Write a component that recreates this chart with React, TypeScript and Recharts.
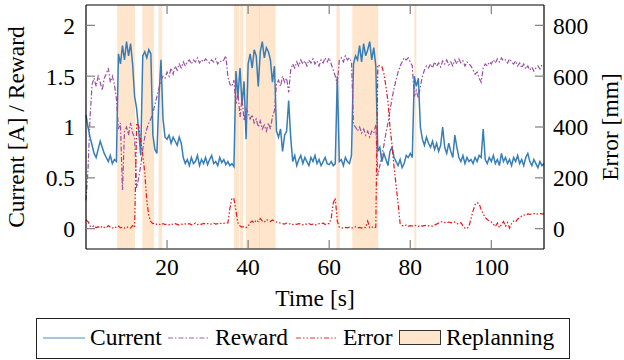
import React from 'react';
import { LineChart, Line, XAxis, YAxis, ReferenceArea, Label } from 'recharts';

// sampled every 0.5 s, t = 0 .. 113
const current = [
  1.12, 1.0, 0.9, 0.82, 0.74, 0.7, 0.78, 0.86, 0.8, 0.74,
  0.7, 0.66, 0.72, 0.64, 0.68, 0.66, 1.72, 1.62, 1.8, 1.66,
  1.84, 1.7, 1.82, 1.62, 1.3, 1.18, 0.96, 0.72, 1.7, 1.74,
  1.68, 1.76, 1.72, 0.92, 0.78, 0.74, 1.3, 1.66, 1.08, 0.9,
  0.88, 0.92, 0.84, 0.9, 0.86, 0.82, 0.9, 0.84, 0.7, 0.64,
  0.68, 0.62, 0.7, 0.64, 0.66, 0.72, 0.62, 0.68, 0.64, 0.7,
  0.63, 0.68, 0.72, 0.64, 0.66, 0.62, 0.7, 0.65, 0.68, 0.63,
  0.66, 0.62, 0.64, 0.61, 1.55, 1.3, 1.58, 1.22, 1.45, 0.88,
  1.62, 1.72, 1.58, 1.76, 1.7, 1.4, 1.74, 1.84, 1.68, 1.78,
  1.74, 1.66, 1.44, 1.6, 0.96, 0.9, 0.98, 0.76, 0.92, 0.96,
  1.26, 0.9, 0.66, 0.72, 0.62, 0.68, 0.72, 0.64, 0.7, 0.66,
  0.62, 0.7, 0.66, 0.72, 0.64, 0.68, 0.62, 0.66, 0.7, 0.64,
  0.63, 0.66, 0.62, 0.64, 1.5, 0.66, 0.68, 0.62, 0.7, 0.66,
  0.64, 0.72, 1.62, 1.7, 1.66, 1.8, 1.64, 1.82, 1.7, 1.76,
  1.84, 1.66, 1.78, 1.6, 0.76, 0.8, 0.66, 0.74, 0.68, 0.62,
  0.76, 0.8, 0.7, 0.66, 0.62, 0.68, 0.6, 0.64, 0.72, 0.7,
  0.74, 0.7, 1.5, 1.4, 1.48, 1.0, 0.88, 0.82, 0.9, 0.84,
  0.8, 0.86, 0.78, 0.84, 0.76, 0.82, 1.0, 0.8, 0.74, 0.84,
  0.76, 0.7, 0.92, 0.8, 0.7, 0.66, 0.72, 0.64, 0.7, 0.66,
  0.68, 0.64, 0.7, 0.66, 0.72, 0.7, 0.98, 0.68, 0.64, 0.7,
  0.66, 0.72, 0.64, 0.68, 0.62, 0.74, 0.66, 0.7, 0.64, 0.68,
  0.62, 0.7, 0.66, 0.72, 0.64, 0.68, 0.62, 0.7, 0.74, 0.66,
  0.62, 0.68, 0.64, 0.6, 0.66, 0.62, 0.64,
];

const reward = [
  0.28, 0.58, 1.1, 1.42, 1.48, 1.4, 1.5, 1.44, 1.36, 1.48,
  1.52, 1.58, 1.44, 1.5, 1.42, 1.28, 0.98, 1.04, 0.38, 0.96,
  1.0, 0.92, 1.04, 0.94, 0.9, 0.4, 0.5, 0.62, 0.78, 0.9,
  0.98, 1.04, 1.08, 1.14, 1.22, 1.3, 1.38, 1.46, 1.5, 1.48,
  1.54, 1.5, 1.58, 1.52, 1.6, 1.56, 1.62, 1.58, 1.64, 1.6,
  1.64, 1.66, 1.62, 1.66, 1.64, 1.68, 1.63, 1.66, 1.64, 1.67,
  1.65, 1.63, 1.66, 1.64, 1.67, 1.62, 1.65, 1.64, 1.66, 1.7,
  1.5, 1.42, 1.4, 1.46, 1.22, 1.34, 1.1, 1.28, 1.06, 1.18,
  1.14, 1.08, 1.12, 1.04, 1.08, 1.0, 1.06, 0.98, 1.02, 0.96,
  1.04, 0.98, 1.1, 1.16, 1.42, 1.46, 1.4, 1.5, 1.44, 1.48,
  1.34, 1.56, 1.62, 1.58, 1.64, 1.6, 1.66, 1.62, 1.65, 1.6,
  1.66, 1.63, 1.67, 1.62, 1.65, 1.6, 1.66, 1.63, 1.68, 1.64,
  1.68, 1.62, 1.56, 1.5, 1.42, 1.66, 1.68, 1.64, 1.7, 1.66,
  1.68, 1.64, 1.02, 1.0, 0.96, 1.0, 0.94, 0.98, 0.92, 0.96,
  0.9, 0.96, 0.94, 1.02, 0.52, 0.62, 0.72, 0.82, 0.94, 1.04,
  1.16, 1.28, 1.38, 1.46, 1.54, 1.6, 1.64, 1.68, 1.66, 1.68,
  1.64, 1.6, 1.3, 1.36, 1.28, 1.4, 1.5, 1.56, 1.6, 1.58,
  1.62, 1.58, 1.64, 1.6, 1.63, 1.59, 1.65, 1.62, 1.66, 1.61,
  1.64, 1.6, 1.66, 1.62, 1.67, 1.63, 1.65, 1.6, 1.64, 1.62,
  1.6, 1.56, 1.52, 1.54, 1.48, 1.44, 1.58, 1.62, 1.6, 1.64,
  1.62, 1.66, 1.63, 1.67, 1.64, 1.68, 1.65, 1.66, 1.63, 1.67,
  1.64, 1.62, 1.65, 1.6, 1.63, 1.58, 1.62, 1.57, 1.6, 1.56,
  1.59, 1.55, 1.58, 1.6, 1.57, 1.61, 1.6,
];

// error in mm
const error = [
  34, 28, 10, 6, 12, 4, 8, 2, 10, 5,
  3, 12, 6, 2, 8, 4, 10, 3, 6, 2,
  8, 4, 2, 12, 5, 415, 405, 350, 290, 220,
  110, 50, 28, 20, 22, 16, 18, 14, 20, 16,
  18, 15, 19, 16, 20, 17, 14, 18, 16, 19,
  17, 20, 15, 18, 22, 16, 19, 17, 21, 18,
  20, 17, 19, 22, 18, 20, 23, 19, 21, 24,
  22, 80, 120, 118, 70, 22, 10, 6, 8, 4,
  10, 24, 30, 22, 34, 28, 40, 30, 26, 36,
  32, 28, 34, 30, 26, 24, 22, 20, 18, 22,
  18, 20, 16, 19, 17, 20, 18, 15, 19, 17,
  20, 16, 18, 14, 17, 20, 18, 22, 16, 20,
  20, 40, 100, 120, 30, 6, 4, 2, 5, 3,
  6, 2, 4, 8, 3, 5, 2, 6, 4, 30,
  4, 8, 2, 6, 645, 640, 638, 610, 560, 500,
  400, 330, 244, 170, 100, 20, 12, 10, 14, 9,
  12, 10, 14, 11, 9, 13, 10, 12, 14, 11,
  12, 10, 14, 18, 22, 26, 28, 24, 22, 26,
  24, 22, 26, 20, 18, 24, 12, 2, 0, 10,
  40, 70, 95, 102, 98, 75, 58, 44, 36, 30,
  26, 18, 8, 22, 4, 16, 28, 10, 24, 2,
  20, 30, 26, 38, 44, 50, 54, 52, 58, 56,
  58, 60, 56, 58, 60, 57, 59,
];

// replanning intervals [start, end] in s
const replanning = [
  [7.7, 12.1], [13.9, 16.8], [17.9, 18.8], [36.5, 37.8], [38.0, 38.8],
  [39.4, 42.8], [42.7, 46.8], [61.8, 62.6], [65.7, 72.1], [81.0, 81.5],
];

const xTicks = [20, 40, 60, 80, 100];
const leftTicks = [0, 0.5, 1, 1.5, 2];
const rightTicks = [0, 200, 400, 600, 800];

const data = current.map((c, i) => ({ t: i * 0.5, current: c, reward: reward[i], error: error[i] }));

const FONT = '"Liberation Serif", "Times New Roman", serif';
const FS = 23.5;
const BLUE = '#377eb8';
const PURPLE = '#984ea3';
const RED = '#e41a1c';
const ORANGE = '#ff7f00';
const TICK = '#808080';

const tickStyle = { fontFamily: FONT, fontSize: FS, fill: '#000' };
const EmptyTick = () => <g />;

export default function App() {
  return (
    <div style={{ position: 'absolute', left: 0, top: 0, width: 624, height: 360, fontFamily: FONT, background: '#fff' }}>
      <LineChart width={624} height={360} data={data} margin={{ top: 0, right: 0, bottom: 51, left: 0 }}>
        <XAxis
          xAxisId="b"
          dataKey="t"
          type="number"
          domain={[0, 113]}
          ticks={xTicks}
          interval={0}
          height={60}
          tickSize={-9}
          tickMargin={18}
          tick={tickStyle}
          tickLine={{ stroke: TICK, strokeWidth: 1.2 }}
          axisLine={{ stroke: '#000', strokeWidth: 1.2 }}
        >
          <Label
            content={() => (
              <text x={315} y={306} textAnchor="middle" fontFamily={FONT} fontSize={FS} fill="#000">
                Time [s]
              </text>
            )}
          />
        </XAxis>
        <XAxis
          xAxisId="top"
          orientation="top"
          dataKey="t"
          type="number"
          domain={[0, 113]}
          ticks={xTicks}
          interval={0}
          height={5}
          tickSize={-9}
          tick={EmptyTick}
          tickLine={{ stroke: TICK, strokeWidth: 1.2 }}
          axisLine={{ stroke: '#000', strokeWidth: 1.2 }}
        />
        <YAxis
          yAxisId="left"
          domain={[-0.2, 2.2]}
          ticks={leftTicks}
          interval={0}
          width={86}
          tickSize={-9}
          tickMargin={20}
          tick={tickStyle}
          tickLine={{ stroke: TICK, strokeWidth: 1.2 }}
          axisLine={{ stroke: '#000', strokeWidth: 1.2 }}
        >
          <Label
            content={() => (
              <text x={24} y={127} transform="rotate(-90 24 127)" textAnchor="middle" fontFamily={FONT} fontSize={FS} fill="#000">
                Current [A] / Reward
              </text>
            )}
          />
        </YAxis>
        <YAxis
          yAxisId="right"
          orientation="right"
          domain={[-80, 880]}
          ticks={rightTicks}
          interval={0}
          width={80}
          tickSize={-9}
          tickMargin={18}
          tick={tickStyle}
          tickLine={{ stroke: TICK, strokeWidth: 1.2 }}
          axisLine={{ stroke: '#000', strokeWidth: 1.2 }}
        >
          <Label
            content={() => (
              <text x={618} y={127} transform="rotate(-90 618 127)" textAnchor="middle" fontFamily={FONT} fontSize={FS} fill="#000">
                Error [mm]
              </text>
            )}
          />
        </YAxis>

        {replanning.map(([a, b], i) => (
          <ReferenceArea key={i} xAxisId="b" yAxisId="left" x1={a} x2={b} fill={ORANGE} fillOpacity={0.2} stroke="none" />
        ))}

        <Line xAxisId="b" yAxisId="left" type="linear" dataKey="current" stroke={BLUE} strokeWidth={1.5} dot={false} isAnimationActive={false} />
        <Line xAxisId="b" yAxisId="left" type="linear" dataKey="reward" stroke={PURPLE} strokeWidth={1.2} strokeDasharray="5 2 1.5 2" dot={false} isAnimationActive={false} />
        <Line xAxisId="b" yAxisId="right" type="linear" dataKey="error" stroke={RED} strokeWidth={1.2} strokeDasharray="5 2 1.5 2 1.5 2" dot={false} isAnimationActive={false} />
      </LineChart>

      {/* legend, drawn like the pgfplots box under the axis */}
      <svg width={624} height={360} style={{ position: 'absolute', left: 0, top: 0, pointerEvents: 'none' }}>
        <rect x={36.5} y={318.5} width={533} height={40} fill="#fff" stroke="#222" strokeWidth={1} />
        <line x1={43} y1={338} x2={85} y2={338} stroke={BLUE} strokeOpacity={0.6} strokeWidth={1.5} />
        <text x={90} y={345} fontFamily={FONT} fontSize={FS} fill="#000">Current</text>
        <line x1={168} y1={338} x2={210} y2={338} stroke={PURPLE} strokeOpacity={0.6} strokeWidth={1.5} strokeDasharray="5 2 1.5 2" />
        <text x={215} y={345} fontFamily={FONT} fontSize={FS} fill="#000">Reward</text>
        <line x1={296} y1={338} x2={338} y2={338} stroke={RED} strokeOpacity={0.6} strokeWidth={1.5} strokeDasharray="5 2 1.5 2 1.5 2" />
        <text x={343} y={345} fontFamily={FONT} fontSize={FS} fill="#000">Error</text>
        <rect x={399.5} y={330.5} width={41} height={14} fill={ORANGE} fillOpacity={0.2} stroke="#333" strokeWidth={1} />
        <text x={446} y={345} fontFamily={FONT} fontSize={FS} fill="#000">Replanning</text>
      </svg>
    </div>
  );
}
